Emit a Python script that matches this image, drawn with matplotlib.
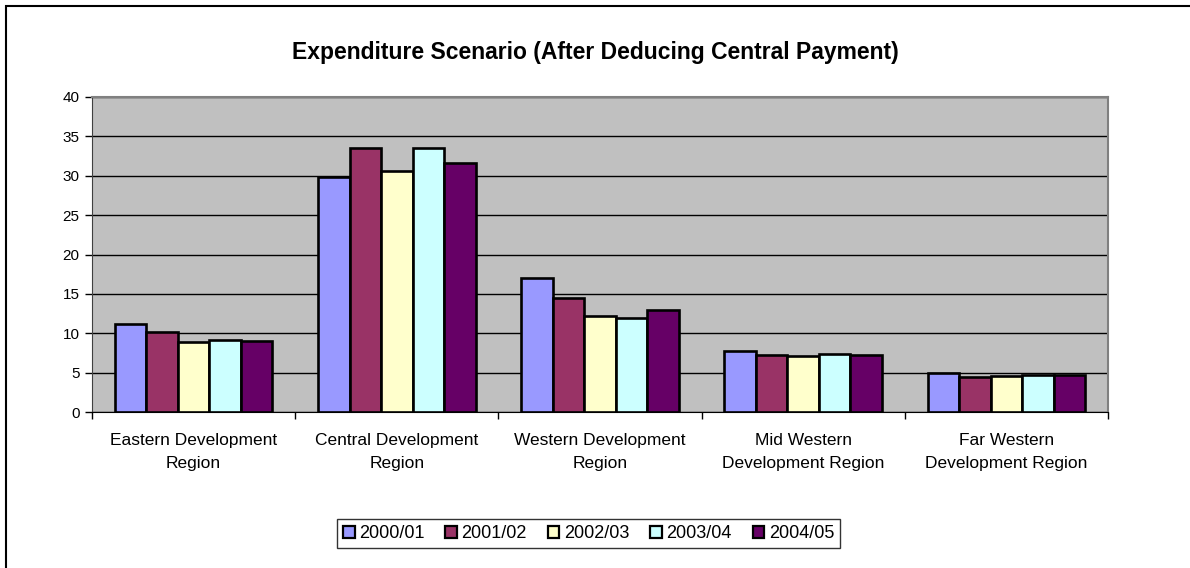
import numpy as np
import matplotlib
matplotlib.use('Agg')
import matplotlib.pyplot as plt
import matplotlib.patches as patches

plt.rcParams['font.family'] = ['Liberation Sans', 'DejaVu Sans']

# Data
regions = ['Eastern Development\nRegion', 'Central Development\nRegion',
           'Western Development\nRegion', 'Mid Western\nDevelopment Region',
           'Far Western\nDevelopment Region']
years = ['2000/01', '2001/02', '2002/03', '2003/04', '2004/05']
y2000 = [11.2, 29.9, 17.0, 7.8, 5.0]
y2001 = [10.2, 33.5, 14.5, 7.3, 4.5]
y2002 = [8.9, 30.6, 12.2, 7.1, 4.6]
y2003 = [9.2, 33.5, 11.9, 7.4, 4.7]
y2004 = [9.0, 31.6, 12.9, 7.3, 4.7]
series = [y2000, y2001, y2002, y2003, y2004]
colors = ['#9999FF', '#993366', '#FFFFCC', '#CCFFFF', '#660066']

fig = plt.figure(figsize=(11.9, 5.68), dpi=100)
ax = fig.add_axes([92 / 1190, 1 - 412 / 568, 1016 / 1190, 315 / 568])

x = np.arange(len(regions))
width = 0.155
for i, (vals, col, lab) in enumerate(zip(series, colors, years)):
    ax.bar(x + (i - 2) * width, vals, width, color=col, edgecolor='black',
           linewidth=1.9, label=lab, zorder=3)

# Excel-style plot area
ax.set_facecolor('#C0C0C0')
ax.set_xlim(-0.5, len(regions) - 0.5)
ax.set_ylim(0, 40)
ax.set_yticks(np.arange(0, 41, 5))
ax.yaxis.grid(True, color='black', linewidth=1.0, zorder=1)
ax.set_axisbelow(True)
for side in ['top', 'right']:
    ax.spines[side].set_color('#808080')
    ax.spines[side].set_linewidth(1.5)
ax.spines['left'].set_color('#404040')
ax.spines['bottom'].set_color('black')

ax.set_xticks(x)
ax.set_xticklabels(regions, fontsize=12.5, linespacing=1.7)
ax.tick_params(axis='x', which='major', length=0, pad=15)
ax.set_xticks(np.arange(-0.5, len(regions), 1.0), minor=True)
ax.tick_params(axis='x', which='minor', length=5, width=1, color='black')
ax.tick_params(axis='y', length=5, width=1, labelsize=11, pad=4)

fig.text(0.5, 1 - 52 / 568, 'Expenditure Scenario (After Deducing Central Payment)',
         ha='center', va='center', fontsize=16.5, fontweight='bold')

leg = fig.legend(loc='center', bbox_to_anchor=(588.5 / 1190, 1 - 533.5 / 568),
                 ncol=5, fontsize=13, frameon=True, fancybox=False,
                 handlelength=0.65, handleheight=0.65, handletextpad=0.25,
                 columnspacing=1.15, borderpad=0.35, borderaxespad=0)
leg.get_frame().set_edgecolor('black')
leg.get_frame().set_linewidth(1.0)
for h in leg.legend_handles:
    h.set_linewidth(1.6)

# chart area border
fig.add_artist(patches.Rectangle((6 / 1190, -0.1), 1.2, (568 - 6) / 568 + 0.1,
                                 transform=fig.transFigure, fill=False,
                                 edgecolor='black', linewidth=1.5))

fig.savefig('out.png', dpi=100)
